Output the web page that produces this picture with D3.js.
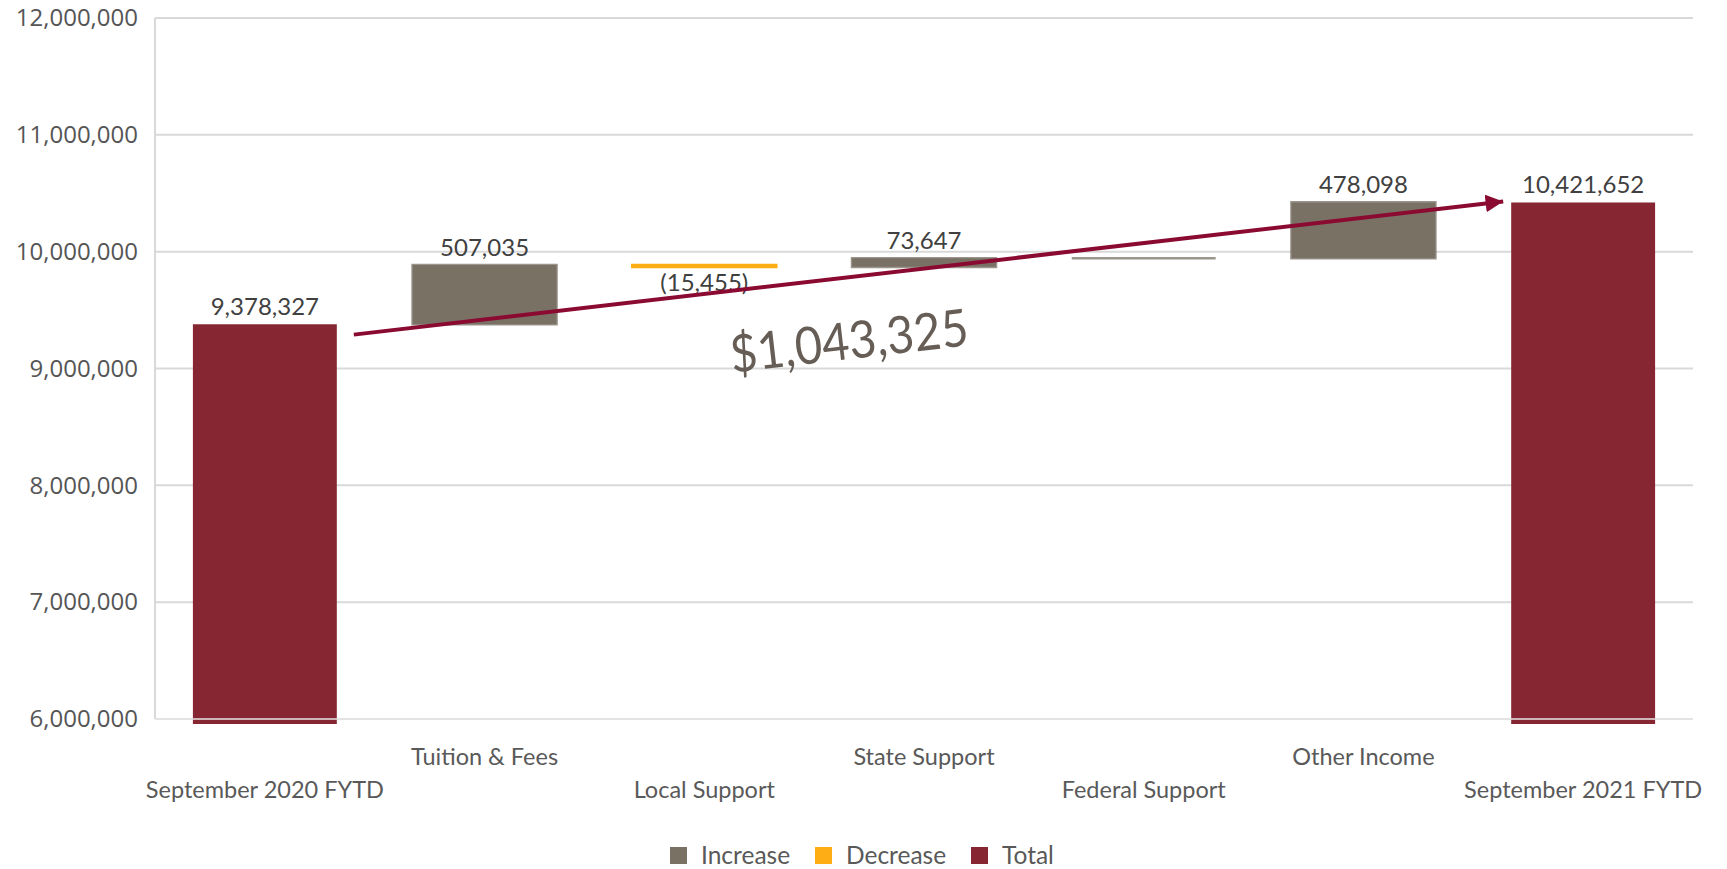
<!DOCTYPE html>
<html>
<head>
<meta charset="utf-8">
<script src="https://cdn.jsdelivr.net/npm/d3@7"></script>
<style>
  html, body { margin: 0; padding: 0; background: #fff; }
  svg { display: block; }
</style>
</head>
<body>
<svg id="chart" width="1727" height="869"></svg>
<script>
// Revenue bridge: September 2020 FYTD to September 2021 FYTD
const categories = [
  "September 2020 FYTD", "Tuition & Fees", "Local Support", "State Support",
  "Federal Support", "Other Income", "September 2021 FYTD"
];
const amounts = [9378327, 507035, -15455, 73647, 0, 478098, 10421652];
const kinds = ["total", "increase", "decrease", "increase", "increase", "increase", "total"];
const valueLabels = ["9,378,327", "507,035", "(15,455)", "73,647", "", "478,098", "10,421,652"];
const yTicks = [6000000, 7000000, 8000000, 9000000, 10000000, 11000000, 12000000];
const legendItems = ["Increase", "Decrease", "Total"];
const netChangeLabel = "$1,043,325";
const arrowFrom = 9290000;   // arrow tail level
const arrowTo = 10430000;    // arrow head level

const colors = { increase: "#7a7165", decrease: "#ffad14", total: "#862633" };
const calibriLike = "Lato, 'Open Sans', sans-serif";
const axisFont = "'Open Sans', 'Noto Sans', sans-serif";

const svg = d3.select("#chart");
const plotLeft = 155, plotRight = 1693, plotTop = 18, plotBottom = 719;

const x = d3.scaleBand().domain(categories).range([plotLeft, plotRight])
  .paddingInner(0.345).paddingOuter(0.1725);
const y = d3.scaleLinear().domain([6000000, 12000000]).range([plotBottom, plotTop]);

// waterfall steps
let running = 0;
const steps = categories.map((c, i) => {
  let start, end;
  if (kinds[i] === "total") { start = 0; end = amounts[i]; running = amounts[i]; }
  else { start = running; end = running + amounts[i]; running = end; }
  return { cat: c, start, end, kind: kinds[i], label: valueLabels[i] };
});

// gridlines
svg.append("g").selectAll("line").data(yTicks).join("line")
  .attr("x1", plotLeft).attr("x2", plotRight)
  .attr("y1", d => y(d)).attr("y2", d => y(d))
  .attr("stroke", "#d9d9d9").attr("stroke-width", 2);
svg.append("line").attr("x1", plotLeft).attr("x2", plotLeft)
  .attr("y1", plotTop).attr("y2", plotBottom)
  .attr("stroke", "#d9d9d9").attr("stroke-width", 2);

// y axis labels
const yAxis = svg.append("g").attr("transform", `translate(${plotLeft},0)`)
  .call(d3.axisLeft(y).tickValues(yTicks).tickFormat(d3.format(",")).tickSize(0).tickPadding(17));
yAxis.select(".domain").remove();
yAxis.selectAll("text")
  .attr("font-family", axisFont).attr("font-size", 24)
  .attr("fill", "#555555");

// bars, clipped just below the axis minimum; drawn as paths so a zero change still shows as a line
svg.append("clipPath").attr("id", "plotClip")
  .append("rect").attr("x", plotLeft).attr("y", plotTop)
  .attr("width", plotRight - plotLeft).attr("height", plotBottom - plotTop + 5);

svg.append("g").attr("clip-path", "url(#plotClip)")
  .selectAll("path").data(steps).join("path")
  .attr("d", d => {
    const x0 = x(d.cat), w = x.bandwidth();
    const y0 = y(Math.max(d.start, d.end)), h = Math.abs(y(d.start) - y(d.end));
    return `M${x0},${y0}h${w}v${h}h${-w}Z`;
  })
  .attr("fill", d => colors[d.kind])
  .attr("stroke", d => d.kind === "total" ? "none" : colors[d.kind])
  .attr("stroke-opacity", d => d.kind === "increase" ? 0.75 : 1)
  .attr("stroke-width", 2.6);

// axis baseline over the bars
svg.append("line").attr("x1", plotLeft).attr("x2", plotRight)
  .attr("y1", y(6000000)).attr("y2", y(6000000))
  .attr("stroke", "#e6e6e6").attr("stroke-opacity", 0.75).attr("stroke-width", 2);

// value labels
svg.append("g").selectAll("text").data(steps.filter(d => d.label)).join("text")
  .attr("x", d => x(d.cat) + x.bandwidth() / 2)
  .attr("y", d => d.kind === "decrease" ? y(Math.min(d.start, d.end)) + 24 : y(Math.max(d.start, d.end)) - 9)
  .attr("text-anchor", "middle")
  .attr("font-family", calibriLike).attr("font-size", 24)
  .attr("fill", "#404040")
  .text(d => d.label);

// category labels, staggered on two rows
svg.append("g").selectAll("text").data(categories).join("text")
  .attr("x", d => x(d) + x.bandwidth() / 2)
  .attr("y", (d, i) => i % 2 === 1 ? 765 : 798)
  .attr("text-anchor", "middle")
  .attr("font-family", calibriLike).attr("font-size", 23.5)
  .attr("fill", "#595959")
  .text(d => d);

// net change arrow
const defs = svg.append("defs");
defs.append("marker").attr("id", "head")
  .attr("viewBox", "0 0 10 10").attr("refX", 10).attr("refY", 5)
  .attr("markerWidth", 4.4).attr("markerHeight", 4.4).attr("markerUnits", "strokeWidth")
  .attr("orient", "auto")
  .append("path").attr("d", "M0,0 L10,5 L0,10 Z").attr("fill", "#8a0a32");

const ax1 = x(categories[0]) + x.bandwidth() + 17;
const ax2 = x(categories[categories.length - 1]) - 8;
svg.append("line")
  .attr("x1", ax1).attr("y1", y(arrowFrom))
  .attr("x2", ax2).attr("y2", y(arrowTo))
  .attr("stroke", "#8a0a32").attr("stroke-width", 4)
  .attr("marker-end", "url(#head)");

const angle = Math.atan2(y(arrowTo) - y(arrowFrom), ax2 - ax1) * 180 / Math.PI;
svg.append("text")
  .attr("transform", `translate(849,341) rotate(${angle}) scale(1,1.1)`)
  .attr("text-anchor", "middle").attr("dy", "0.35em")
  .attr("font-family", calibriLike).attr("font-size", 47)
  .attr("fill", "#665e56")
  .text(netChangeLabel);

// legend
const legendX = [670, 815, 971];
const legend = svg.append("g").selectAll("g").data(legendItems).join("g")
  .attr("transform", (d, i) => `translate(${legendX[i]},847)`);
legend.append("rect").attr("width", 17).attr("height", 17)
  .attr("fill", d => colors[d.toLowerCase()]);
legend.append("text").attr("x", 31).attr("y", 8.5).attr("dy", "0.36em")
  .attr("font-family", calibriLike).attr("font-size", 24.5)
  .attr("fill", "#595959")
  .text(d => d);
</script>
</body>
</html>
